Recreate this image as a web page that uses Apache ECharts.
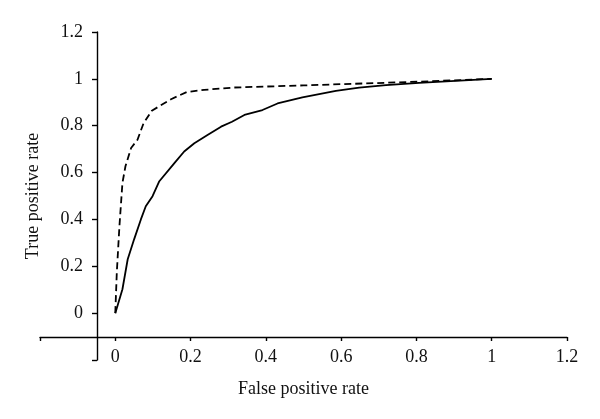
<!DOCTYPE html>
<html>
<head>
<meta charset="utf-8">
<script src="https://cdn.jsdelivr.net/npm/echarts@6/dist/echarts.min.js"></script>
<style>html,body{margin:0;padding:0;background:#fff}#c{width:600px;height:419px}</style>
</head>
<body>
<div id="c"></div>
<script>
// Solid curve (x = false positive rate, y = true positive rate)
const solidX = [0, 0.019, 0.033, 0.05, 0.068, 0.081, 0.099, 0.117, 0.157, 0.183, 0.21, 0.245, 0.281, 0.31, 0.343, 0.391, 0.431, 0.497, 0.586, 0.648, 0.719, 0.807, 1.0];
const solidY = [0, 0.102, 0.23, 0.315, 0.40, 0.456, 0.499, 0.563, 0.64, 0.69, 0.725, 0.76, 0.796, 0.817, 0.846, 0.867, 0.895, 0.921, 0.949, 0.963, 0.973, 0.983, 1.0];
// Dashed curve
const dashX = [0, 0.004, 0.011, 0.019, 0.027, 0.042, 0.059, 0.075, 0.097, 0.148, 0.19, 0.236, 0.316, 0.5, 0.807, 1.0];
const dashY = [0, 0.173, 0.371, 0.556, 0.627, 0.705, 0.74, 0.81, 0.864, 0.913, 0.944, 0.953, 0.963, 0.972, 0.988, 1.0];
// Axis ticks
const xTicks = [-0.2, 0, 0.2, 0.4, 0.6, 0.8, 1, 1.2];
const yTicks = [-0.2, 0, 0.2, 0.4, 0.6, 0.8, 1, 1.2];
const xTitle = 'False positive rate';
const yTitle = 'True positive rate';

const font = 'Liberation Serif';
const zip = (a, b) => a.map((v, i) => [v, b[i]]);
const fmt = v => (v < -0.01 ? '' : String(Math.round(v * 10) / 10));

const chart = echarts.init(document.getElementById('c'), null, {renderer: 'canvas'});
chart.setOption({
  animation: false,
  backgroundColor: '#fff',
  grid: {left: 40, right: 33, top: 32, bottom: 59, containLabel: false},
  xAxis: {
    type: 'value', min: xTicks[0], max: xTicks[xTicks.length - 1], interval: 0.2,
    offset: -23,
    axisLine: {onZero: false, lineStyle: {color: '#000', width: 1.4}},
    axisTick: {show: true, inside: false, length: 4, lineStyle: {color: '#000', width: 1.4}},
    axisLabel: {formatter: fmt, color: '#111', fontFamily: font, fontSize: 18, margin: 11},
    splitLine: {show: false},
    name: xTitle, nameLocation: 'middle', nameGap: 43,
    nameTextStyle: {color: '#111', fontFamily: font, fontSize: 18}
  },
  yAxis: {
    type: 'value', min: yTicks[0], max: yTicks[yTicks.length - 1], interval: 0.2,
    offset: -57,
    axisLine: {onZero: false, lineStyle: {color: '#000', width: 1.4}},
    axisTick: {show: true, inside: false, length: 5, lineStyle: {color: '#000', width: 1.4}},
    axisLabel: {formatter: fmt, color: '#111', fontFamily: font, fontSize: 18, margin: 14},
    splitLine: {show: false},
    name: yTitle, nameLocation: 'middle', nameGap: 55, nameRotate: 90,
    nameTextStyle: {color: '#111', fontFamily: font, fontSize: 18}
  },
  series: [
    {type: 'line', data: zip(solidX, solidY), showSymbol: false, symbol: 'none',
     lineStyle: {color: '#000', width: 1.8, type: 'solid'}},
    {type: 'line', data: zip(dashX, dashY), showSymbol: false, symbol: 'none',
     lineStyle: {color: '#000', width: 1.8, type: [7, 4]}}
  ]
});
</script>
</body>
</html>
